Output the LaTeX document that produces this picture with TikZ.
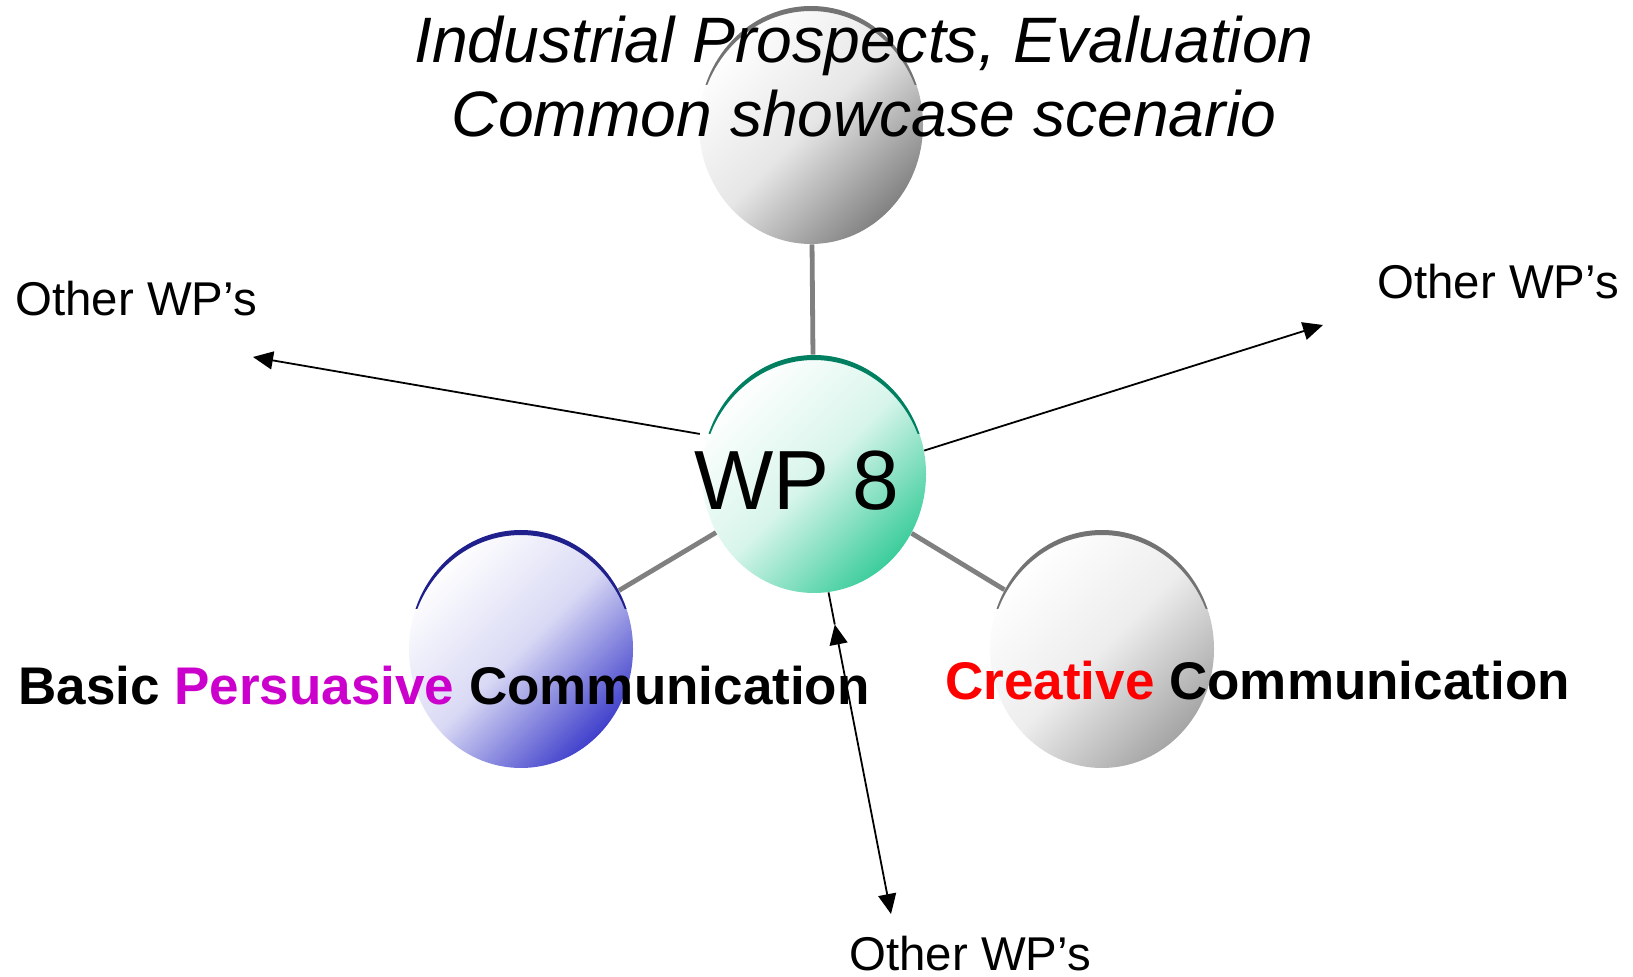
\documentclass[tikz,border=0pt]{standalone}
\usepackage{fontspec}
\setmainfont{Liberation Sans}
\usetikzlibrary{shapes.geometric,arrows.meta,calc}

\definecolor{wpgreen}{RGB}{60,205,155}
\definecolor{wpgreenrim}{RGB}{0,128,96}
\definecolor{bpblue}{RGB}{64,64,204}
\definecolor{bpbluerim}{RGB}{32,32,140}
\definecolor{ipgray}{RGB}{130,130,130}
\definecolor{ccgray}{RGB}{165,165,165}
\definecolor{rimgray}{RGB}{115,115,115}
\definecolor{linkgray}{RGB}{128,128,128}
\definecolor{persuade}{RGB}{204,0,204}
\definecolor{creative}{RGB}{255,0,0}

% glossy rim along the upper edge of a sphere node
\newcommand\rimsheen[2]{%
  \begin{scope}
    \clip ($(#1.center)+(-130,-40)$) rectangle ($(#1.center)+(130,-140)$);
    \fill[#2, even odd rule]
      (#1.center) ellipse [x radius=56pt, y radius=59.5pt]
      ([yshift=-2.5pt]#1.center) ellipse [x radius=56pt, y radius=59.5pt];
  \end{scope}}

\begin{document}
\begin{tikzpicture}[x=0.5pt,y=-0.5pt,
  sphere/.style={ellipse, inner sep=0pt, minimum width=112pt, minimum height=119pt,
    top color=white, bottom color=#1, middle color=#1!20, shading angle=45},
  link/.style={draw=linkgray, line width=2.4pt},
  arr/.style={draw=black, line width=0.9pt, -{Triangle[length=10pt,width=9pt]}},
  darr/.style={draw=black, line width=0.9pt, {Triangle[length=10pt,width=9pt]}-{Triangle[length=10pt,width=9pt]}},
  other/.style={anchor=base west, inner sep=0pt, font=\fontsize{23.7}{28}\selectfont},
  wplabel/.style={anchor=base west, inner sep=0pt, font=\fontsize{26.5}{32}\selectfont\bfseries},
]
\path[use as bounding box] (0,0) rectangle (1633,977);

% spheres
\node[sphere=ipgray]  (ind) at (811,125) {};
\node[sphere=wpgreen] (wp)  at (814,474) {};
\node[sphere=bpblue]  (bpc) at (521,649) {};
\node[sphere=ccgray]  (cc)  at (1102,649) {};

\rimsheen{ind}{rimgray}
\rimsheen{wp}{wpgreenrim}
\rimsheen{bpc}{bpbluerim}
\rimsheen{cc}{rimgray}

% links between the work packages
\draw[link] (ind) -- (wp);
\draw[link] (wp) -- (bpc);
\draw[link] (wp) -- (cc);

% texts
\node[anchor=base, inner sep=0pt, align=center,
      font=\fontsize{32.1}{37}\selectfont\itshape] (title) at (864,136.5)
  {Industrial Prospects, Evaluation\\Common showcase scenario};
\node[anchor=base west, inner sep=0pt, font=\fontsize{42}{48}\selectfont] (wptext) at (694,510) {WP 8};
\node[wplabel] (bpctext) at (18,705) {Basic \textcolor{persuade}{Persuasive} Communication};
\node[wplabel] (cctext) at (945,700) {\textcolor{creative}{Creative} Communication};
\node[other] (otherL) at (15,316) {Other WP’s};
\node[other] (otherR) at (1377,299) {Other WP’s};
\node[other] (otherB) at (849,970) {Other WP’s};

% arrows to the other work packages
\coordinate (tipL) at (253,357);
\coordinate (tipR) at (1323,325);
\coordinate (tipB) at (891,914);
\coordinate (midB) at ($(wp.-83)!0.1!(tipB)$);
\draw[arr, shorten <=4pt] (wp.160) -- (tipL);
\draw[arr] (wp.12) -- (tipR);
\draw[draw=black, line width=0.9pt] (wp.-83) -- (midB);
\draw[darr] (midB) -- (tipB);
\end{tikzpicture}
\end{document}
